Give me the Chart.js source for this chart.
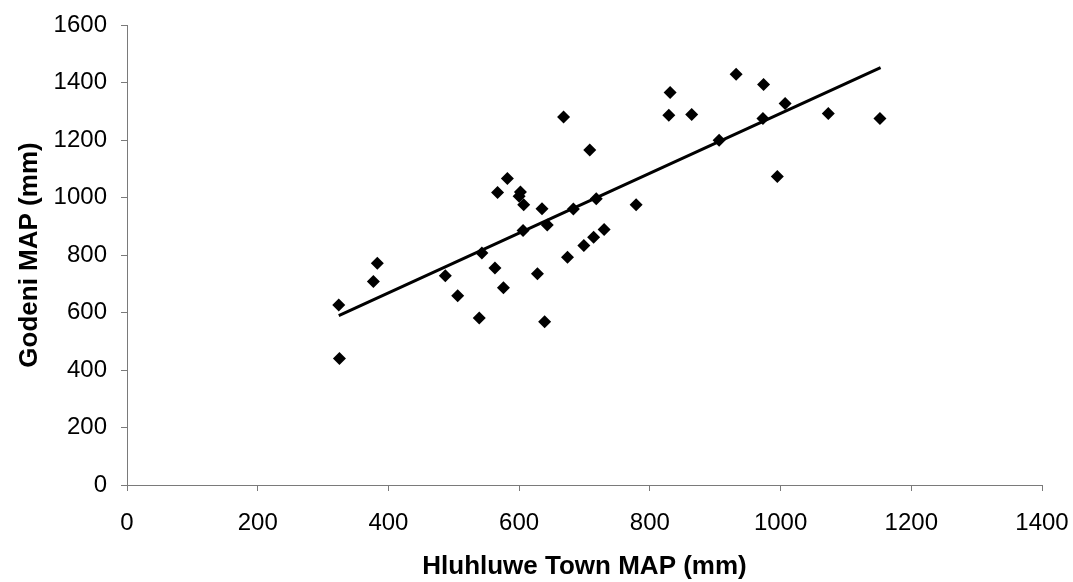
<!DOCTYPE html>
<html>
<head>
<meta charset="utf-8">
<script src="https://cdn.jsdelivr.net/npm/chart.js@4/dist/chart.umd.min.js"></script>
<style>
  html, body { margin: 0; padding: 0; background: #fff; }
  #wrap { width: 1073px; height: 582px; }
</style>
</head>
<body>
<div id="wrap"><canvas id="c" width="1073" height="582"></canvas></div>
<script>
// Hluhluwe Town MAP (mm) vs Godeni MAP (mm)
const hluhluweMAP = [324, 325, 377, 383, 487, 506, 543, 563, 576, 539, 628, 639, 708, 635, 643, 683, 718, 779, 730, 714, 699, 674, 995, 1007, 1073, 1152, 582, 567, 602, 600, 607, 606, 831, 829, 864, 932, 974, 973, 906, 668];
const godeniMAP   = [626, 440, 708, 771, 728, 658, 807, 755, 686, 581, 735, 568, 1165, 961, 904, 960, 996, 975, 889, 862, 833, 792, 1073, 1327, 1292, 1275, 1066, 1017, 1019, 1004, 975, 885, 1365, 1286, 1289, 1429, 1393, 1275, 1199, 1280];
// Trend line end points (as drawn)
const trendX = [324, 1153];
const trendY = [589, 1452];
const xTicks = [0, 200, 400, 600, 800, 1000, 1200, 1400];
const yTicks = [0, 200, 400, 600, 800, 1000, 1200, 1400, 1600];

const points = hluhluweMAP.map((x, i) => ({ x: x, y: godeniMAP[i] }));
const trend = trendX.map((x, i) => ({ x: x, y: trendY[i] }));

const FONT = "'Liberation Sans', Arial, Helvetica, sans-serif";
const axisColor = '#7a7a7a';

new Chart(document.getElementById('c'), {
  type: 'scatter',
  data: {
    datasets: [
      {
        label: 'Data',
        data: points,
        pointStyle: 'rectRot',
        pointRadius: 6.5,
        pointHoverRadius: 6.5,
        backgroundColor: '#000',
        borderColor: '#000',
        borderWidth: 0,
        showLine: false
      },
      {
        label: 'Trend',
        type: 'line',
        data: trend,
        borderColor: '#000',
        borderWidth: 3,
        pointRadius: 0,
        fill: false,
        tension: 0
      }
    ]
  },
  options: {
    responsive: false,
    animation: false,
    events: [],
    layout: { padding: { top: 25, right: 31, left: 0, bottom: 0 } },
    plugins: { legend: { display: false }, tooltip: { enabled: false } },
    scales: {
      x: {
        type: 'linear',
        min: 0, max: 1400,
        afterBuildTicks: (s) => { s.ticks = xTicks.map(v => ({ value: v })); },
        afterFit: (s) => { s.height = 97; s.paddingLeft = 0; s.paddingRight = 0; },
        border: { display: true, color: axisColor, width: 1 },
        grid: { display: true, drawOnChartArea: false, drawTicks: true, tickLength: 6, color: axisColor },
        ticks: { color: '#000', font: { family: FONT, size: 24 }, padding: 18, maxRotation: 0, callback: (v) => String(v) },
        title: { display: true, text: 'Hluhluwe Town MAP (mm)', color: '#000', font: { family: FONT, size: 26, weight: 'bold' }, padding: { top: 0, bottom: 0 } }
      },
      y: {
        type: 'linear',
        min: 0, max: 1600,
        afterBuildTicks: (s) => { s.ticks = yTicks.map(v => ({ value: v })); },
        afterFit: (s) => { s.width = 127; s.paddingTop = 0; s.paddingBottom = 0; },
        border: { display: true, color: axisColor, width: 1 },
        grid: { display: true, drawOnChartArea: false, drawTicks: true, tickLength: 6, color: axisColor },
        ticks: { color: '#000', font: { family: FONT, size: 24 }, padding: 14, callback: (v) => String(v) },
        title: { display: true, text: 'Godeni MAP (mm)', color: '#000', font: { family: FONT, size: 26, weight: 'bold' }, padding: { top: 14, bottom: 0 } }
      }
    }
  }
});
</script>
</body>
</html>
